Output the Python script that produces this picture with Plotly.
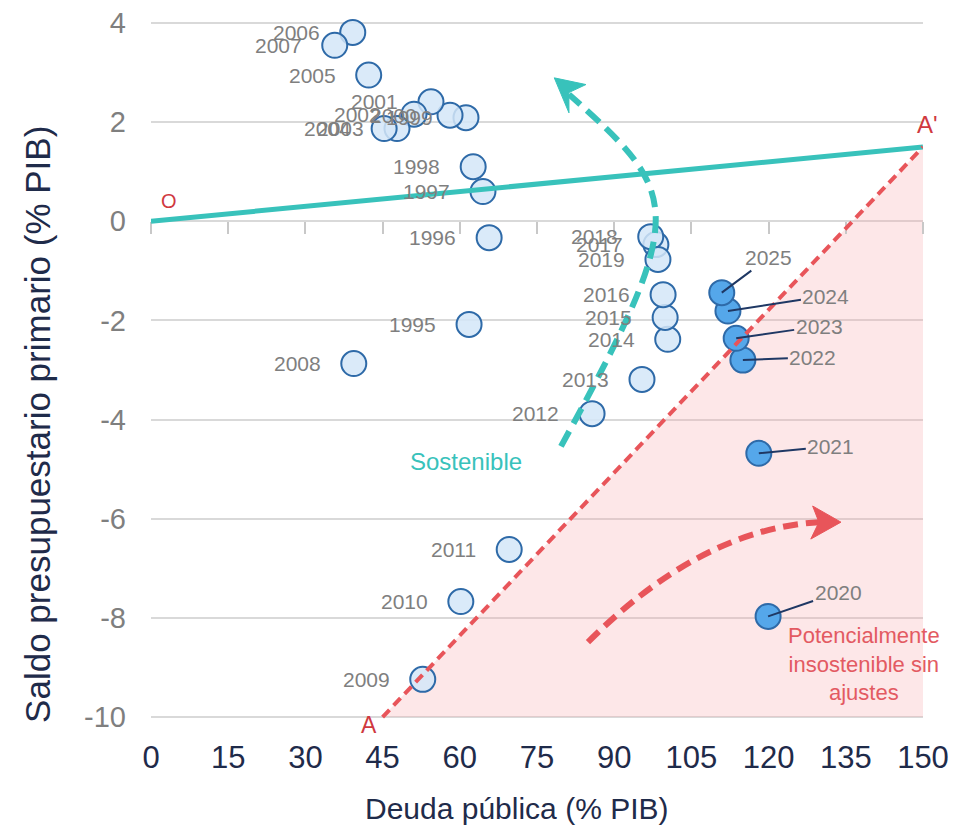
import plotly.graph_objects as go

# ---------------- data ----------------
years = [1995, 1996, 1997, 1998, 1999, 2000, 2001, 2002, 2003, 2004,
         2005, 2006, 2007, 2008, 2009, 2010, 2011, 2012, 2013, 2014,
         2015, 2016, 2017, 2018, 2019, 2020, 2021, 2022, 2023, 2024, 2025]
debt = [61.8, 65.7, 64.5, 62.6, 61.2, 58.1, 54.4, 51.1, 47.8, 45.3,
        42.3, 39.2, 35.7, 39.4, 52.8, 60.2, 69.6, 85.7, 95.4, 100.4,
        99.9, 99.5, 98.1, 97.1, 98.5, 119.9, 118.1, 115.0, 113.7, 112.1, 110.9]
balance = [-2.08, -0.33, 0.60, 1.10, 2.09, 2.14, 2.41, 2.16, 1.87, 1.87,
           2.95, 3.81, 3.55, -2.87, -9.24, -7.67, -6.62, -3.88, -3.19, -2.38,
           -1.94, -1.48, -0.47, -0.31, -0.77, -7.97, -4.68, -2.80, -2.36, -1.81, -1.44]
recent_from = 2020

x_ticks = [0, 15, 30, 45, 60, 75, 90, 105, 120, 135, 150]
y_ticks = [-10, -8, -6, -4, -2, 0, 2, 4]
y_tick_labels = ["-10", "-8", "-6", "-4", "-2", "0", "2", "4"]

# reference points of the diagram
point_O = (0, 0)
point_A = (45, -10)
point_A2 = (150, 1.5)

# callout offsets (pixels) for the recent-year labels
callout_offsets = {2025: (47, -35), 2024: (98, -15), 2023: (83, -12),
                   2022: (70, -3), 2021: (72, -7), 2020: (70, -24)}

FONT = "Liberation Sans, Arial, sans-serif"
TEAL = "#38c2bb"
RED = "#e8555a"
NAVY = "#1f2b4a"
GREY = "#7f7f7f"

Y_RANGE = [-10.06, 4.06]

fig = go.Figure()

# pink region (A, A', bottom right corner)
fig.add_trace(go.Scatter(
    x=[point_A[0], point_A2[0], point_A2[0], point_A[0]],
    y=[point_A[1], point_A2[1], point_A[1], point_A[1]],
    mode="lines", fill="toself", fillcolor="rgba(248,170,172,0.28)",
    line=dict(width=0), hoverinfo="skip", showlegend=False))

hist_x = [d for d, yr in zip(debt, years) if yr < recent_from]
hist_y = [b for b, yr in zip(balance, years) if yr < recent_from]
rec_x = [d for d, yr in zip(debt, years) if yr >= recent_from]
rec_y = [b for b, yr in zip(balance, years) if yr >= recent_from]

fig.add_trace(go.Scatter(
    x=hist_x, y=hist_y, mode="markers", cliponaxis=False,
    marker=dict(size=25, color="rgba(212,230,248,0.85)",
                line=dict(color="#2e6aa8", width=2)),
    showlegend=False))
fig.add_trace(go.Scatter(
    x=rec_x, y=rec_y, mode="markers", cliponaxis=False,
    marker=dict(size=25, color="#55a7ea",
                line=dict(color="#2e6aa8", width=2)),
    showlegend=False))

# invisible trace for the tick-axis at y=0
fig.add_trace(go.Scatter(x=[x_ticks[0]], y=[0], xaxis="x2", mode="markers",
                         marker=dict(opacity=0), hoverinfo="skip", showlegend=False))

shapes = [
    # sustainability line O -> A'
    dict(type="line", xref="x", yref="y", x0=point_O[0], y0=point_O[1],
         x1=point_A2[0], y1=point_A2[1], line=dict(color=TEAL, width=5), layer="above"),
    # A -> A' dashed
    dict(type="line", xref="x", yref="y", x0=point_A[0], y0=point_A[1],
         x1=point_A2[0], y1=point_A2[1], line=dict(color=RED, width=4, dash="10px,6px"),
         layer="above"),
    # teal curved arrow
    dict(type="path", xref="x", yref="y",
         path="M 79.66,-4.54 C 104.9,0.24 103.0,0.54 81.21,2.56",
         line=dict(color=TEAL, width=6, dash="17px,9px"), layer="above"),
    dict(type="path", xref="x", yref="y",
         path="M 78.36,2.893 L 84.51,2.758 L 81.2,2.597 L 81.21,2.187 Z",
         fillcolor=TEAL, line=dict(color=TEAL, width=1), layer="above"),
    # red curved arrow
    dict(type="path", xref="x", yref="y",
         path="M 84.9,-8.49 Q 106.86,-6.21 129.78,-6.069",
         line=dict(color=RED, width=6, dash="15px,8px"), layer="above"),
    dict(type="path", xref="x", yref="y",
         path="M 134.06,-6.069 L 128.56,-5.744 L 129.78,-6.069 L 128.2,-6.41 Z",
         fillcolor=RED, line=dict(color=RED, width=1), layer="above"),
]

annotations = []
for yr, dx, by in zip(years, debt, balance):
    if yr < recent_from:
        annotations.append(dict(x=dx, y=by, text=str(yr), showarrow=False,
                                xanchor="right", yanchor="middle", xshift=-31,
                                font=dict(family=FONT, size=21, color=GREY)))
    else:
        ax, ay = callout_offsets[yr]
        annotations.append(dict(x=dx, y=by, text=str(yr), showarrow=True,
                                ax=ax, ay=ay, arrowhead=0, arrowwidth=2,
                                arrowcolor="#1f3864", standoff=0,
                                font=dict(family=FONT, size=21, color=GREY)))

annotations += [
    dict(x=point_O[0], y=point_O[1], text="O", showarrow=False, xshift=18, yshift=20,
         font=dict(family=FONT, size=20, color="#d0393f")),
    dict(x=point_A[0], y=point_A[1], text="A", showarrow=False, xshift=-14, yshift=-8,
         font=dict(family=FONT, size=23, color="#d0393f")),
    dict(x=point_A2[0], y=point_A2[1], text="A'", showarrow=False, xshift=4, yshift=22,
         font=dict(family=FONT, size=24, color="#d0393f")),
    dict(x=61.2, y=-4.84, text="Sostenible", showarrow=False,
         font=dict(family=FONT, size=24, color=TEAL)),
    dict(x=138.5, y=-8.94, text="Potencialmente<br>insostenible sin<br>ajustes",
         showarrow=False, align="center",
         font=dict(family=FONT, size=22, color="#e35a62")),
    dict(xref="paper", yref="paper", x=-0.1464, y=0.423, textangle=-90,
         text="Saldo presupuestario primario (% PIB)", showarrow=False,
         xanchor="center", yanchor="middle",
         font=dict(family=FONT, size=35, color=NAVY)),
    dict(xref="paper", yref="paper", x=0.474, y=-0.127,
         text="Deuda pública (% PIB)", showarrow=False,
         xanchor="center", yanchor="middle",
         font=dict(family=FONT, size=30, color=NAVY)),
]

fig.update_layout(
    width=956, height=821,
    margin=dict(l=143, r=41, t=12, b=109),
    paper_bgcolor="white", plot_bgcolor="white",
    showlegend=False,
    shapes=shapes, annotations=annotations,
    xaxis=dict(range=[0, 150], tickvals=x_ticks, showgrid=False, zeroline=False,
               showline=False, ticks="", ticklabelstandoff=16,
               automargin=False, ticklabeloverflow="allow",
               tickfont=dict(family=FONT, size=31, color=NAVY)),
    xaxis2=dict(range=[0, 150], overlaying="x", anchor="free",
                position=(0 - Y_RANGE[0]) / (Y_RANGE[1] - Y_RANGE[0]),
                tickvals=x_ticks, showticklabels=False, showgrid=False,
                zeroline=False, showline=False, ticks="outside", ticklen=12,
                automargin=False, tickwidth=1.5, tickcolor="#c8c8c8"),
    yaxis=dict(range=Y_RANGE, tickvals=y_ticks, ticktext=y_tick_labels,
               showgrid=True, gridcolor="#d9d9d9",
               gridwidth=1.5, zeroline=False, showline=False, ticks="",
               ticklabelstandoff=24, ticklabeloverflow="allow", automargin=False,
               tickfont=dict(family=FONT, size=29, color=GREY)),
)

fig.write_html("out.html")
